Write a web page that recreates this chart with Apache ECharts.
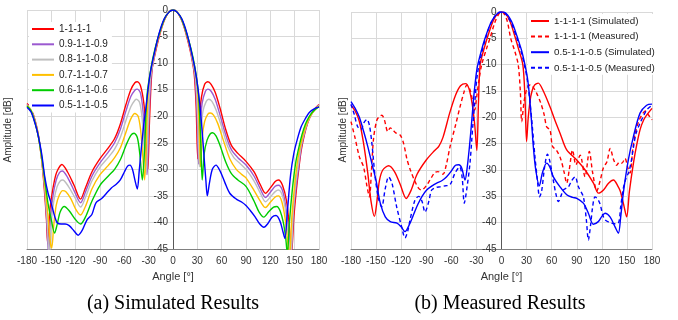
<!DOCTYPE html>
<html><head><meta charset="utf-8">
<script src="https://cdn.jsdelivr.net/npm/echarts@6/dist/echarts.min.js"></script>
<style>html,body{margin:0;padding:0;background:#fff}#c{width:678px;height:320px}</style>
</head><body><div id="c"></div>
<script>
// ---------- tick labels ----------
var angleTicks = [-180,-150,-120,-90,-60,-30,0,30,60,90,120,150,180];
var dbTicks = [0,-5,-10,-15,-20,-25,-30,-35,-40,-45];

// ---------- (a) Simulated: names ----------
var simNames = ['1-1-1-1','0.9-1-1-0.9','0.8-1-1-0.8','0.7-1-1-0.7','0.6-1-1-0.6','0.5-1-1-0.5'];
var simColors = ['#ff0000','#9b59d0','#bfbfbf','#ffc000','#00cc00','#0000ff'];

// ---------- (a) Simulated: [angle, dB] ----------
var simRed = [[-180,-17.6],[-175,-18.5],[-170,-20.8],[-166,-23.5],[-162,-28],[-158.5,-34],[-156,-39.5],[-154.5,-44],[-152,-38],[-149.5,-35],[-146,-32],[-143,-30.4],[-137,-29.1],[-130,-30.5],[-122,-33],[-114,-35.6],[-108,-33.5],[-100,-30.5],[-90,-28],[-80,-26],[-72,-24.2],[-65,-21.5],[-58,-17.8],[-52,-15],[-47,-13.7],[-44,-13.5],[-40,-14.3],[-36,-17.5],[-33,-23],[-31,-30],[-29,-21],[-26,-11.5],[-22,-8.2],[-18,-5.6],[-14,-3.4],[-10,-1.7],[-5,-0.4],[0,0],[5,-0.4],[10,-1.7],[14,-3.4],[18,-5.6],[22,-8.2],[26,-11.8],[28.5,-18],[30.5,-28],[32.5,-21],[35,-16.5],[39,-14],[43,-13.5],[47,-14],[52,-15.5],[58,-18.5],[65,-22.5],[72,-25.5],[80,-27],[90,-28.5],[100,-30.5],[108,-33],[114,-34.5],[120,-33.5],[126,-32.3],[130,-32],[135,-33],[140,-36],[143.5,-41],[146,-46],[149,-39],[152,-34],[155,-30],[158,-26.5],[162,-23.5],[166,-21.3],[170,-19.8],[175,-18.6],[180,-17.8]];
var simPurple = [[-180,-17.8],[-175,-18.7],[-170,-21],[-166,-23.7],[-162,-28],[-158,-34],[-155.5,-40],[-153.5,-46],[-151,-39.5],[-148,-35],[-144,-32],[-140,-30.6],[-136.5,-30.3],[-130,-31.5],[-122,-34],[-114,-36.3],[-108,-34.3],[-100,-31.3],[-90,-28.8],[-80,-26.8],[-72,-25],[-65,-22.5],[-58,-19],[-52,-16.3],[-47,-15.1],[-44,-14.9],[-40,-15.7],[-37,-19],[-34.5,-25],[-32,-31],[-30,-22],[-27,-12.5],[-23,-8.6],[-19,-5.9],[-15,-3.6],[-10,-1.6],[-5,-0.4],[0,0],[5,-0.4],[10,-1.6],[15,-3.6],[19,-5.9],[23,-8.6],[27,-12.5],[29.5,-19],[31.5,-29],[33.5,-22],[36,-17.5],[40,-15.3],[43,-14.9],[47,-15.3],[52,-16.8],[58,-19.8],[65,-23.5],[72,-26.3],[80,-27.8],[90,-29.2],[100,-31.3],[108,-33.8],[114,-35.3],[120,-34.3],[126,-33.2],[130,-33],[135,-34],[139,-37],[143,-42],[145.5,-46],[148.5,-38],[152,-33],[155,-29.5],[158,-26],[162,-23.2],[166,-21.2],[170,-19.8],[175,-18.7],[180,-17.9]];
var simGray = [[-180,-17.9],[-175,-18.8],[-170,-21.1],[-166,-23.8],[-162,-28],[-158,-33.5],[-155,-40],[-152.5,-47],[-150,-40],[-147,-36],[-143,-33.3],[-139,-32.2],[-136,-32],[-129,-33.2],[-121,-35.3],[-114,-37.1],[-108,-35.3],[-100,-32.2],[-90,-29.6],[-80,-27.8],[-72,-26.2],[-65,-24],[-58,-20.8],[-52,-18.2],[-47,-17],[-45,-16.8],[-41,-17.5],[-38,-20.5],[-35.5,-26],[-33,-31],[-31,-23],[-28,-13],[-24,-9.3],[-20,-6.3],[-15,-3.6],[-10,-1.5],[-5,-0.4],[0,0],[5,-0.4],[10,-1.5],[15,-3.6],[20,-6.3],[24,-9.3],[28,-13],[30.5,-20],[32.5,-29.5],[34.5,-23],[37,-19],[41,-17.2],[44,-16.8],[48,-17.2],[53,-18.8],[60,-22],[67,-25.5],[75,-27.8],[82,-28.8],[90,-30],[100,-32.2],[108,-34.6],[114,-36.1],[120,-35.2],[126,-34.2],[130,-33.9],[135,-35],[139,-38],[142.5,-43],[145,-47],[148,-38.5],[151,-33],[155,-28.5],[158,-25.5],[162,-23],[166,-21.1],[170,-19.8],[175,-18.7],[180,-18]];
var simYellow = [[-180,-18],[-175,-18.9],[-170,-21.2],[-166,-23.8],[-162,-28],[-158,-33],[-154,-39],[-151,-44],[-149.5,-44.8],[-147,-40.5],[-144,-36.8],[-140,-34.8],[-136,-34],[-132,-34.2],[-126,-35.5],[-120,-37.5],[-114,-38.6],[-108,-37],[-100,-33.7],[-90,-31],[-80,-29.3],[-72,-27.8],[-65,-26],[-58,-23],[-52,-20.5],[-47,-19.5],[-43,-20],[-40,-22.5],[-37.5,-27],[-35,-32],[-33,-25],[-30,-14],[-26,-10.3],[-21,-6.8],[-16,-4],[-10,-1.5],[-5,-0.4],[0,0],[5,-0.4],[10,-1.5],[16,-4],[21,-6.8],[26,-10.3],[30,-14.5],[32,-21],[34,-29.5],[36,-24],[39,-21],[43,-19.6],[46,-19.4],[50,-19.8],[55,-21.3],[62,-24.5],[70,-28],[78,-30],[85,-31],[90,-31.6],[100,-34],[108,-36.1],[114,-37.2],[120,-36.2],[126,-35.2],[130,-35],[134,-36],[138,-39],[141,-43],[143.5,-46.5],[146.5,-39],[150,-33],[154,-28],[158,-25],[162,-22.7],[166,-21],[170,-19.8],[175,-18.8],[180,-18.1]];
var simGreen = [[-180,-18.1],[-175,-19],[-170,-21.3],[-166,-23.8],[-162,-27.5],[-158,-32],[-154,-36.5],[-150,-39.5],[-146,-42],[-143,-40.5],[-139,-38],[-134,-37],[-128,-37.8],[-120,-39.5],[-114,-40.3],[-108,-39],[-100,-36],[-90,-33],[-80,-31.3],[-72,-30],[-65,-28.2],[-58,-25.5],[-52,-23.6],[-48,-23.2],[-44,-24],[-41,-27],[-37.8,-32],[-35,-26],[-32,-16],[-27,-10.8],[-22,-7.2],[-16,-4],[-10,-1.5],[-5,-0.4],[0,0],[5,-0.4],[10,-1.5],[16,-4],[22,-7.2],[27,-10.8],[31.5,-16],[34,-24],[36,-32],[38.5,-27],[42,-24.5],[46,-23.3],[49,-23.1],[53,-23.7],[58,-25.5],[65,-28.6],[72,-30.8],[80,-32],[90,-33.2],[100,-36],[106,-38],[112,-39],[118,-38],[124,-37.1],[128,-37],[132,-37.8],[136,-40],[139,-43],[141,-46],[143.5,-40],[147,-34],[151,-29],[155,-26],[159,-23.5],[163,-21.6],[167,-20.3],[172,-19.2],[180,-18.2]];
var simBlue = [[-180,-18.3],[-175,-19.2],[-170,-21.4],[-166,-23.8],[-162,-27],[-158,-31.5],[-154,-34.5],[-150,-36.5],[-146,-38.8],[-143,-40],[-138,-40.3],[-133,-40.3],[-128,-40.6],[-122,-41.6],[-117,-42.4],[-112,-41.5],[-106,-39.5],[-100,-38.5],[-95,-36.3],[-88,-35.5],[-82,-34.5],[-76,-33.5],[-70,-32.8],[-65,-32],[-60,-30.5],[-56,-29.4],[-53,-29.2],[-50,-30],[-47,-32],[-44,-33.7],[-41.5,-30],[-39,-26],[-36,-21.5],[-33,-18],[-30,-14],[-27,-11],[-22,-7.4],[-17,-4.3],[-11,-1.7],[-5,-0.4],[0,0],[5,-0.4],[11,-1.7],[17,-4.3],[22,-7.4],[27,-11],[31,-15],[35,-21],[38,-27],[40.5,-32],[42.3,-35],[45,-32.5],[48.5,-30],[53,-29.2],[58,-30.3],[64,-32.5],[70,-34.5],[78,-35.6],[85,-36.2],[90,-36.8],[95,-37.7],[101,-38.9],[107,-40.3],[112,-40.9],[117,-40.2],[122,-39],[127,-38.7],[132,-39.8],[136,-42],[138,-43],[141,-38],[145,-31],[149,-27],[153,-24.5],[158,-22],[163,-20.5],[168,-19.3],[174,-18.6],[180,-18.3]];

// ---------- (b) Measured: names ----------
var measNames = ['1-1-1-1 (Simulated)','1-1-1-1 (Measured)','0.5-1-1-0.5 (Simulated)','0.5-1-1-0.5 (Measured)'];

// ---------- (b) Measured: [angle, dB] ----------
var mRedSim = [[-180,-17.7],[-175,-18.8],[-170,-20.8],[-165,-24.9],[-160,-30.5],[-156,-36],[-152,-38.8],[-149,-36],[-146,-32],[-142,-30],[-135,-29.2],[-128,-30.3],[-121,-32.8],[-114,-35.4],[-108,-33.8],[-101,-30.8],[-90,-28.1],[-80,-26.3],[-75,-25.5],[-70,-23.8],[-62,-19.2],[-55,-15.8],[-49,-14],[-43,-13.6],[-39,-14.5],[-35,-17.5],[-32,-21.5],[-29.5,-26.3],[-27.5,-17],[-25.5,-10],[-20,-6.5],[-16,-4.4],[-10,-1.7],[-5,-0.4],[0,0],[5,-0.4],[10,-1.7],[16,-4.6],[20,-6.8],[25.5,-10],[28,-16],[30,-24.6],[32,-20],[35,-16],[39,-14],[44,-13.5],[50,-15],[58,-18],[64,-20.6],[70,-23],[78,-26.2],[90,-28.1],[100,-30],[110,-32.5],[116,-34.4],[122,-33.8],[128,-32.5],[134,-31.9],[139,-33],[142,-34],[146,-36.5],[149.7,-38.9],[153,-34],[158,-28.5],[162,-25],[166,-22.2],[170,-20.5],[174,-19.5],[180,-18.3]];
var mRedMeas = [[-180,-20.8],[-175,-24],[-170,-27.5],[-165,-29.4],[-161,-33],[-158,-35.1],[-155.5,-30],[-153,-24],[-149,-20.5],[-145,-19.7],[-143,-19.6],[-140,-20.5],[-136,-22.7],[-133,-22],[-130,-22.4],[-126,-23],[-121,-23.4],[-117,-25],[-113,-28],[-109,-30],[-104,-32],[-99,-33.5],[-95.5,-33.8],[-90,-33],[-85.5,-31.9],[-80,-30.5],[-76,-30.3],[-70,-30.8],[-66,-29],[-61.6,-25.6],[-55,-21.5],[-49.6,-18],[-45,-15.3],[-41.6,-13.9],[-38,-14.6],[-35,-16.5],[-32,-18.6],[-30,-16.5],[-27,-13],[-23.7,-10],[-18,-7],[-13.8,-5],[-8,-2],[-3,-0.3],[0,0],[3,-0.3],[7,-1.8],[11,-5],[16,-7.5],[20,-10],[22.5,-15],[24.2,-20.8],[27,-17],[30.5,-14.5],[34.5,-13.8],[38,-14.3],[42,-15.4],[47,-17.3],[51,-19.5],[54,-21.8],[58,-22.4],[61,-25.5],[66,-26.3],[71,-28],[75,-30.5],[78,-32.5],[81,-30],[85,-26.2],[89,-29],[94,-27.2],[99.9,-31.3],[105,-26.5],[109,-30.5],[114,-34],[118,-32],[122,-29.5],[126,-28.5],[130,-25.9],[134,-28],[137.7,-29.1],[141,-28.5],[144,-28.7],[147.7,-27.8],[151,-29.5],[153.7,-30.6],[157,-26],[160,-23],[164,-20.8],[168,-19.5],[172,-18.8],[176,-19.6],[180,-20.5]];
var mBlueSim = [[-180,-17],[-175,-18.3],[-170,-20],[-165,-22.6],[-160,-25.5],[-155,-28.8],[-150,-32],[-145,-36.3],[-139,-38.9],[-133,-39.8],[-125,-40.1],[-120,-40.8],[-115.4,-41.7],[-110,-40.3],[-104,-38],[-100,-36.5],[-95,-35],[-89.5,-33.8],[-83,-33],[-77.5,-32.5],[-71,-32],[-65.6,-31.3],[-60,-30.2],[-55,-29.1],[-51,-29],[-47.6,-29.6],[-43.6,-31.9],[-41,-29.5],[-38,-25],[-35.5,-20.5],[-33.7,-17],[-31.5,-13.5],[-29,-10.5],[-24,-7.3],[-19.7,-5],[-14,-2.5],[-8,-0.8],[-3,-0.1],[1,0],[5,-0.2],[10,-1.2],[14,-2.5],[19,-4.8],[24,-7.3],[28,-10],[31,-12.5],[33.5,-16],[36,-21],[38.1,-25.6],[41,-30],[45.2,-33],[49,-30.5],[54,-28.7],[58,-29.5],[62,-31.3],[70,-33.2],[78,-34.7],[85,-35.2],[90,-35.4],[97.9,-36.3],[103.9,-38.2],[109.8,-40.3],[115.8,-39.8],[120,-38.8],[123.8,-38.2],[129.8,-38.9],[135.8,-40.8],[139.8,-42],[142.5,-39],[145.7,-34.4],[151.7,-28.1],[157.7,-23.7],[165.7,-19.2],[173.6,-17.7],[180,-17.5]];
var mBlueMeas = [[-180,-17.5],[-176,-19.5],[-172,-21.8],[-168,-22.3],[-164.5,-21],[-161,-20.4],[-158,-21.5],[-155,-25],[-151,-31.5],[-147,-35.5],[-143.3,-37],[-139,-33.5],[-135,-31.3],[-131,-32.5],[-125.4,-37],[-119.4,-40.8],[-115.4,-42.9],[-112,-41.5],[-109.4,-39.5],[-103.5,-35.7],[-99,-35],[-95,-36],[-91.5,-38],[-87,-36],[-83.5,-33.8],[-78,-33.3],[-73.5,-33.2],[-67,-33],[-61.6,-32.8],[-55.6,-30.6],[-50,-29.4],[-47,-31.5],[-44.5,-36.3],[-41,-33],[-37.7,-28.7],[-34.5,-22],[-31.7,-16.7],[-29,-12],[-24,-8],[-19,-5],[-13,-2.2],[-7,-0.6],[-2,0],[2,0],[7,-0.8],[12,-2.2],[18,-4.8],[24,-7.8],[28,-10.5],[31,-13],[34,-17],[37,-22],[40,-27.5],[43,-32],[45.5,-35.1],[48,-34],[51.5,-29.5],[55,-27],[58,-28.5],[62,-32],[65,-34.5],[68,-36],[71,-35],[74,-33.8],[80,-33.2],[84,-32],[88,-31.3],[92,-33.2],[97.9,-35.1],[101.5,-39.5],[103.9,-43.3],[106.5,-40.5],[109,-37],[111.8,-35.1],[115,-35.5],[118,-36.5],[121,-38.5],[124,-39.5],[130,-40],[135,-40.2],[139.8,-40.1],[142.5,-37],[145.7,-33.5],[149,-31.5],[152,-30.5],[155,-28.5],[158,-25.5],[161,-23],[165.7,-21.1],[170,-19.7],[173.6,-18.6],[180,-17.7]];

// ---------- build ----------
var FONT = "'Liberation Sans',Arial,sans-serif";
var TXT = '#333333';
function xAx(gi){
  return {type:'value', gridIndex:gi, min:angleTicks[0], max:angleTicks[angleTicks.length-1], interval:30,
    name:'Angle [°]', nameLocation:'middle', nameGap:22,
    nameTextStyle:{fontFamily:FONT, fontSize:11, color:TXT},
    axisLine:{onZero:false, lineStyle:{color:'#808080', width:1}},
    axisTick:{show:false},
    axisLabel:{fontFamily:FONT, fontSize:10, color:TXT, margin:7},
    splitLine:{show:true, lineStyle:{color:'#d9d9d9', width:1}}};
}
function yAx(gi, off){
  return {type:'value', gridIndex:gi, min:dbTicks[dbTicks.length-1], max:dbTicks[0], interval:5,
    position:'left', offset:off,
    axisLine:{onZero:false, lineStyle:{color:'#595959', width:1}},
    axisTick:{show:false},
    axisLabel:{fontFamily:FONT, fontSize:10, color:TXT, margin:5},
    splitLine:{show:true, lineStyle:{color:'#d9d9d9', width:1}}};
}
var simData = [simRed, simPurple, simGray, simYellow, simGreen, simBlue];
var series = [];
simData.forEach(function(d,i){
  series.push({name:simNames[i], type:'line', xAxisIndex:0, yAxisIndex:0, data:d,
    symbol:'none', smooth:0.3, color:simColors[i], lineStyle:{width:1.4, color:simColors[i]}, z:2+i});
});
var measData = [mRedSim, mRedMeas, mBlueSim, mBlueMeas];
var measColors = ['#ff0000','#ff0000','#0000ff','#0000ff'];
var measDash = ['solid',[4,3],'solid',[4,3]];
measData.forEach(function(d,i){
  series.push({name:measNames[i], type:'line', xAxisIndex:1, yAxisIndex:1, data:d,
    symbol:'none', smooth:0.3, color:measColors[i], lineStyle:{width:1.4, color:measColors[i], type:measDash[i]}, z:2+i});
});

var chart = echarts.init(document.getElementById('c'), null, {renderer:'canvas'});
chart.setOption({
  animation:false,
  backgroundColor:'#fff',
  grid:[{left:27, right:359, top:10, bottom:71},{left:351, right:26, top:12, bottom:71}],
  xAxis:[xAx(0), xAx(1)],
  yAxis:[yAx(0, -146), yAx(1, -150.5)],
  legend:[
    {data:simNames, orient:'vertical', left:29, top:22, itemWidth:22, itemHeight:10, itemGap:5.3,
     backgroundColor:'#fff', padding:[2,4,2,2], itemStyle:{opacity:0},
     textStyle:{fontFamily:FONT, fontSize:10, color:'#222', lineHeight:10}},
    {data:measNames, orient:'vertical', left:528, top:14, itemWidth:18, itemHeight:10, itemGap:5.6,
     backgroundColor:'#fff', padding:[2,2,2,2], itemStyle:{opacity:0},
     textStyle:{fontFamily:FONT, fontSize:9.8, color:'#222', lineHeight:10}}
  ],
  graphic:[
    {type:'text', x:8, y:130, rotation:Math.PI/2, style:{text:'Amplitude [dB]', font:"10px 'Liberation Sans',sans-serif", fill:TXT, align:'center', verticalAlign:'middle'}},
    {type:'text', x:343, y:130, rotation:Math.PI/2, style:{text:'Amplitude [dB]', font:"10px 'Liberation Sans',sans-serif", fill:TXT, align:'center', verticalAlign:'middle'}},
    {type:'text', x:173, y:304, style:{text:'(a) Simulated Results', font:"20px 'Liberation Serif','Times New Roman',serif", fill:'#000', align:'center', verticalAlign:'middle'}},
    {type:'text', x:500, y:304, style:{text:'(b) Measured Results', font:"20px 'Liberation Serif','Times New Roman',serif", fill:'#000', align:'center', verticalAlign:'middle'}}
  ],
  series:series
});
</script></body></html>
